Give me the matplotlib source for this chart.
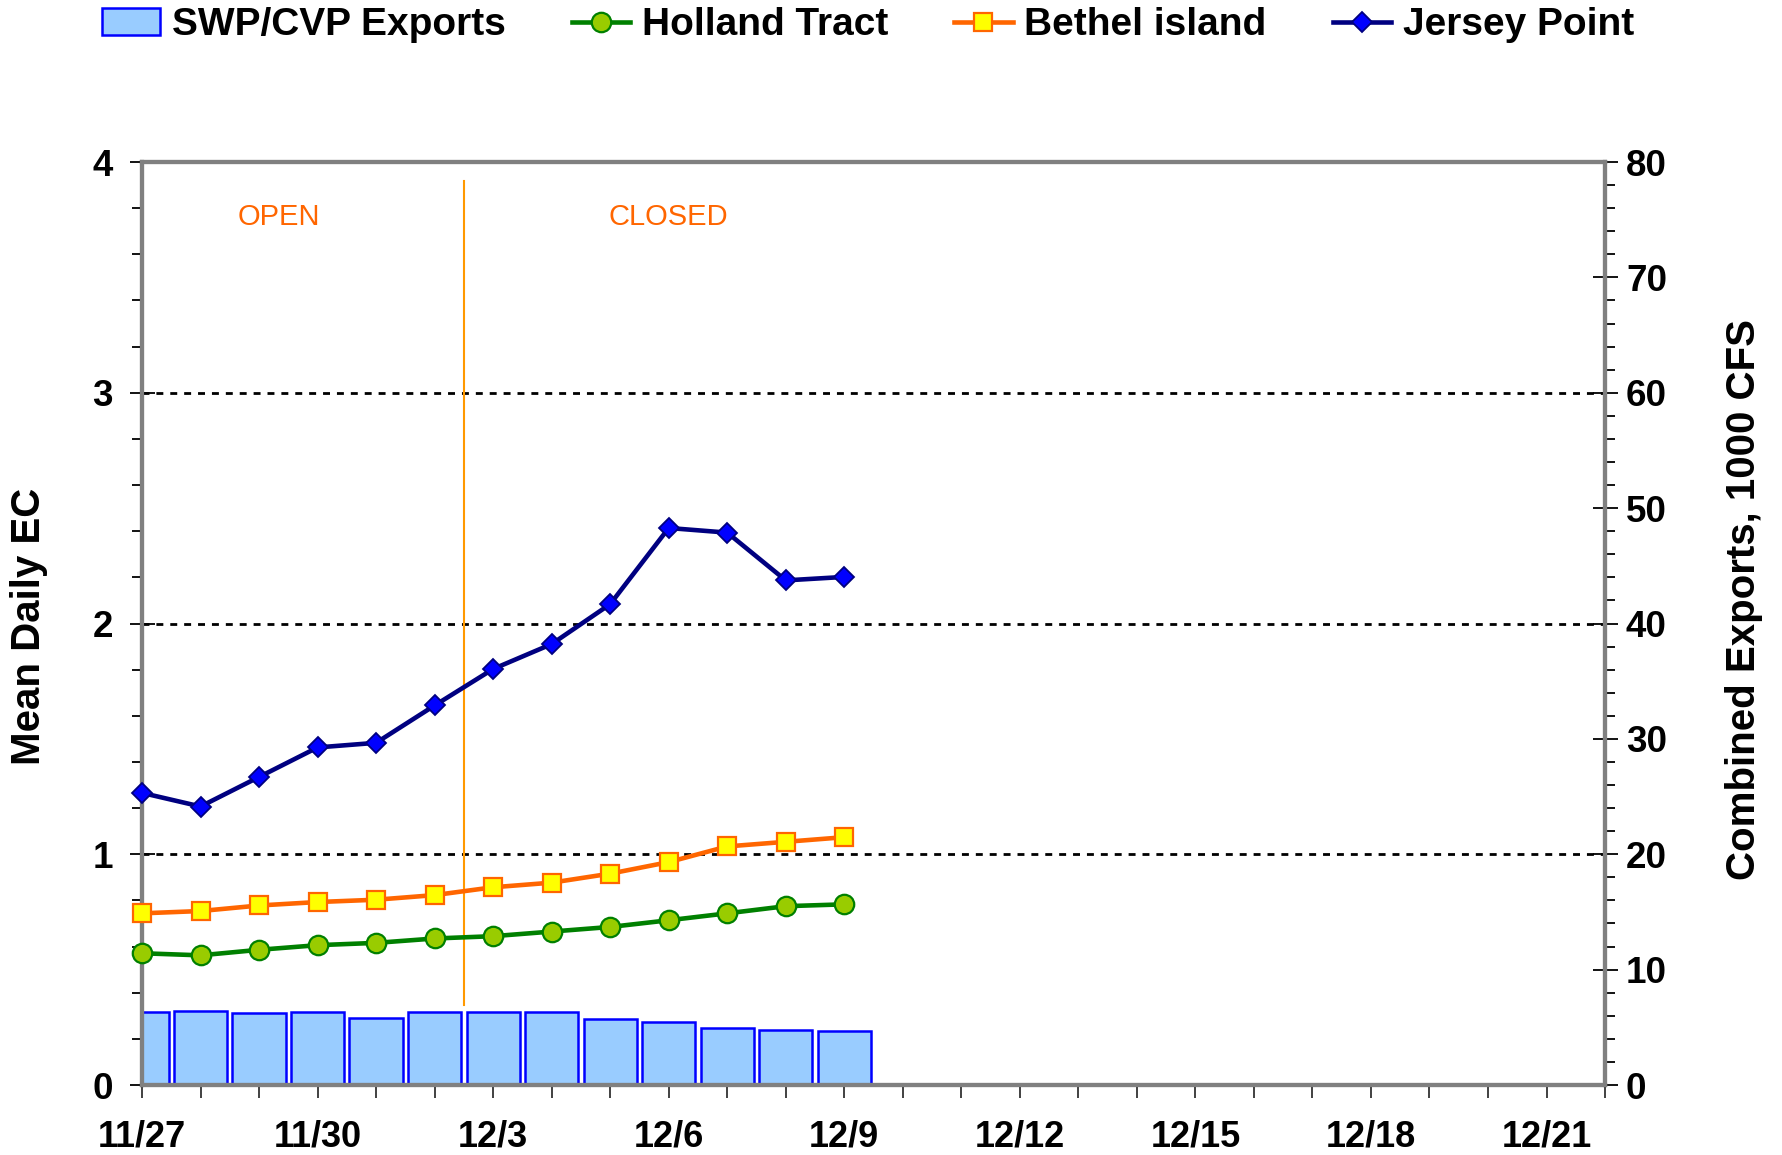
import matplotlib
matplotlib.use("Agg")
import matplotlib.pyplot as plt
from matplotlib.ticker import FixedLocator, MultipleLocator
from matplotlib.patches import Patch
from matplotlib.lines import Line2D

plt.rcParams['font.family'] = ['Liberation Sans', 'DejaVu Sans']

# ---- data ----
days = list(range(13))  # 11/27 ... 12/9, day offsets from 11/27
exports = [6.33, 6.39, 6.27, 6.33, 5.84, 6.33, 6.30, 6.33, 5.69, 5.43, 4.91, 4.77, 4.71]
holland = [0.571, 0.562, 0.586, 0.606, 0.616, 0.635, 0.645, 0.665, 0.685, 0.714, 0.744, 0.775, 0.783]
bethel = [0.744, 0.754, 0.778, 0.793, 0.803, 0.823, 0.857, 0.877, 0.916, 0.966, 1.034, 1.054, 1.074]
jersey = [1.266, 1.207, 1.335, 1.463, 1.483, 1.645, 1.803, 1.911, 2.084, 2.414, 2.394, 2.187, 2.202]
xtick_pos = list(range(26))
xtick_labels = ['11/27', '', '', '11/30', '', '', '12/3', '', '', '12/6', '', '', '12/9', '', '',
                '12/12', '', '', '12/15', '', '', '12/18', '', '', '12/21', '']
gate_change = 5.5
annotations = [('OPEN', 2.33), ('CLOSED', 9.0)]

fig = plt.figure(figsize=(17.82, 11.55), dpi=100)
ax = fig.add_axes([0.0797, 0.0606, 0.8210, 0.7991])
ax2 = ax.twinx()

# bars on right axis
ax2.bar(days, exports, width=0.91, color='#99CCFF', edgecolor='#0000FF', linewidth=1.8, zorder=2)
ax2.set_ylim(0, 80)
ax2.yaxis.set_major_locator(MultipleLocator(10))
ax2.yaxis.set_minor_locator(MultipleLocator(2))

ax.set_zorder(ax2.get_zorder() + 1)
ax.patch.set_visible(False)

hol_style = dict(color='#008000', lw=3.3, marker='o', ms=14, mfc='#99CC00', mec='#008000', mew=1.6)
bet_style = dict(color='#FF6600', lw=3.3, marker='s', ms=13.5, mfc='#FFFF00', mec='#FF6600', mew=1.6)
jer_style = dict(color='#000080', lw=3.3, marker='D', ms=10.5, mfc='#0000FF', mec='#000080', mew=1.3)

# lines on left axis
ax.plot(days, holland, clip_on=False, zorder=4, **hol_style)
ax.plot(days, bethel, clip_on=False, zorder=4, **bet_style)
ax.plot(days, jersey, clip_on=False, zorder=5, **jer_style)

ax.set_xlim(0, 25)
ax.set_ylim(0, 4)
ax.yaxis.set_major_locator(MultipleLocator(1))
ax.yaxis.set_minor_locator(MultipleLocator(0.2))
ax.xaxis.set_major_locator(FixedLocator(xtick_pos))
ax.set_xticklabels(xtick_labels)

# gridlines
for yv in [1, 2, 3]:
    ax.axhline(yv, color='black', lw=2, linestyle=(0, (2.5, 2.5)), zorder=1)

# gate line and annotations
ax.plot([gate_change, gate_change], [0.347, 3.92], color='#FF9900', lw=1.5, zorder=3)
for txt, xv in annotations:
    ax.text(xv, 3.76, txt, color='#FF6600', fontsize=21, ha='center', va='center')

# spines
for a in (ax, ax2):
    for s in a.spines.values():
        s.set_color('#808080')
        s.set_linewidth(3)

ax.tick_params(axis='y', which='major', direction='inout', length=18, width=1.3, labelsize=26.5, pad=12)
ax.tick_params(axis='y', which='minor', direction='out', length=7, width=1.3)
ax.tick_params(axis='x', which='major', direction='out', length=9, width=1.3, labelsize=26, pad=16,
               color='#333333')
ax2.tick_params(axis='y', which='major', direction='inout', length=18, width=1.3, labelsize=26.5, pad=6)
ax2.tick_params(axis='y', which='minor', direction='out', length=7, width=1.3)
for lab in ax.get_xticklabels() + ax.get_yticklabels() + ax2.get_yticklabels():
    lab.set_fontweight('bold')

ax.set_ylabel('Mean Daily EC', fontsize=29, fontweight='bold')
ax.yaxis.set_label_coords(-0.064, 0.497)
ax2.set_ylabel('Combined Exports, 1000 CFS', fontsize=29, fontweight='bold')
ax2.yaxis.set_label_coords(1.082, 0.526)

handles = [
    Patch(facecolor='#99CCFF', edgecolor='#0000FF', linewidth=1.8),
    Line2D([], [], **hol_style),
    Line2D([], [], **bet_style),
    Line2D([], [], **jer_style),
]
labels = ['SWP/CVP Exports', 'Holland Tract', 'Bethel island', 'Jersey Point']
fig.legend(handles, labels, loc='center', bbox_to_anchor=(0.487, 0.978), ncol=4, frameon=False,
           prop={'weight': 'bold', 'size': 28}, handlelength=1.5, handletextpad=0.3,
           columnspacing=1.7, handleheight=0.7)

fig.savefig('out.png', dpi=100)
